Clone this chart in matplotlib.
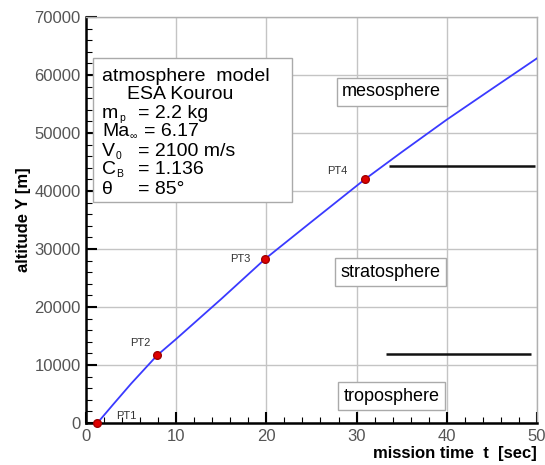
"""Altitude vs mission time for the ESA Kourou launch case."""

import matplotlib

matplotlib.use("Agg")
import matplotlib.pyplot as plt
from matplotlib.patches import Rectangle
from matplotlib.ticker import MultipleLocator

# trajectory
time_s = [1.25, 3.0, 5.0, 7.9, 10.0, 15.0, 19.9, 25.0, 30.9, 35.0, 40.0, 45.0, 50.0]
altitude_m = [0, 3200, 6800, 11700, 14500, 21400, 28350, 34700, 42000, 46700, 52300, 57600, 62870]

# marked points
pt_names = ["PT1", "PT2", "PT3", "PT4"]
pt_time = [1.25, 7.9, 19.9, 30.9]
pt_alt = [0, 11700, 28350, 42000]
pt_offsets = [(21, 5), (-12, 9), (-18, 0), (-20, 6)]  # label offsets in points

# layer boundaries (horizontal markers)
bound_alt = [44350, 11820]
bound_t0 = [33.6, 33.3]
bound_t1 = [49.8, 49.4]

# atmosphere layer labels
layer_names = ["mesosphere", "stratosphere", "troposphere"]
layer_t = [33.9, 33.8, 33.9]
layer_alt = [57100, 26000, 4600]

info_head = ["atmosphere  model", "ESA Kourou"]
info_keys = ["m", "Ma", "V", "C", "\u03b8"]
info_subs = ["p", "\u221e", "0", "B", ""]
info_vals = ["= 2.2 kg", "= 6.17", "= 2100 m/s", "= 1.136", "= 85\u00b0"]

plt.rcParams.update({"font.family": ["Liberation Sans", "DejaVu Sans"]})

fig = plt.figure(figsize=(5.45, 4.65), dpi=100)
ax = fig.add_axes([0.158, 0.0903, 0.827, 0.873])

ax.set_xlim(0, 50)
ax.set_ylim(0, 70000)
ax.xaxis.set_major_locator(MultipleLocator(10))
ax.xaxis.set_minor_locator(MultipleLocator(2))
ax.yaxis.set_major_locator(MultipleLocator(10000))
ax.yaxis.set_minor_locator(MultipleLocator(2000))
ax.grid(True, which="major", color="#c4c4c4", linewidth=1.0)
ax.set_axisbelow(True)

ax.tick_params(which="both", direction="in", colors="black", labelcolor="#555555",
               labelsize=12, top=False, right=False)
ax.tick_params(which="major", length=8, width=1.5, pad=4)
ax.tick_params(which="minor", length=4, width=0.8)
for side in ("left", "bottom"):
    ax.spines[side].set_linewidth(1.8)
    ax.spines[side].set_color("black")
for side in ("top", "right"):
    ax.spines[side].set_linewidth(1.0)
    ax.spines[side].set_color("#b0b0b0")

ax.plot(time_s, altitude_m, color="#3a3aff", linewidth=1.3, zorder=3)
ax.plot(pt_time, pt_alt, "o", color="#e00000", markeredgecolor="#a00000",
        markersize=5.5, zorder=4, clip_on=False)
for name, t, y, off in zip(pt_names, pt_time, pt_alt, pt_offsets):
    ax.annotate(name, (t, y), xytext=off, textcoords="offset points",
                ha="center", va="center", fontsize=8, color="#333333")

for y, t0, t1 in zip(bound_alt, bound_t0, bound_t1):
    ax.hlines(y, t0, t1, color="#111111", linewidth=1.8, zorder=3)

for name, t, y in zip(layer_names, layer_t, layer_alt):
    ax.text(t, y, name, ha="center", va="center", fontsize=13, zorder=5,
            bbox=dict(boxstyle="square,pad=0.3", facecolor="white", edgecolor="#aaaaaa", linewidth=1.0))

# parameter box
ax.add_patch(Rectangle((0.0155, 0.544), 0.4415, 0.354, transform=ax.transAxes,
                       facecolor="white", edgecolor="#aaaaaa", linewidth=1.0, zorder=5))
ax.text(0.035, 0.843, info_head[0], transform=ax.transAxes, fontsize=14, va="baseline", zorder=6)
ax.text(0.091, 0.798, info_head[1], transform=ax.transAxes, fontsize=14, va="baseline", zorder=6)
base_y = [0.752, 0.707, 0.658, 0.614, 0.565]
for key, sub, val, y in zip(info_keys, info_subs, info_vals, base_y):
    t = ax.text(0.035, y, key, transform=ax.transAxes, fontsize=14, va="baseline", zorder=6)
    if sub:
        ax.annotate(sub, xy=(1.0, 0.0), xycoords=t, xytext=(0.5, 0.8), textcoords="offset points",
                    fontsize=7.5, va="baseline", ha="left", zorder=6)
    ax.text(0.116 if key != "Ma" else 0.128, y, val, transform=ax.transAxes,
            fontsize=14, va="baseline", zorder=6)

ax.set_xlabel("mission time  t  [sec]", fontsize=12, fontweight="bold", loc="right", labelpad=2)
ax.set_ylabel("altitude Y [m]", fontsize=12, fontweight="bold", labelpad=2)

fig.savefig("out.png", dpi=100)
